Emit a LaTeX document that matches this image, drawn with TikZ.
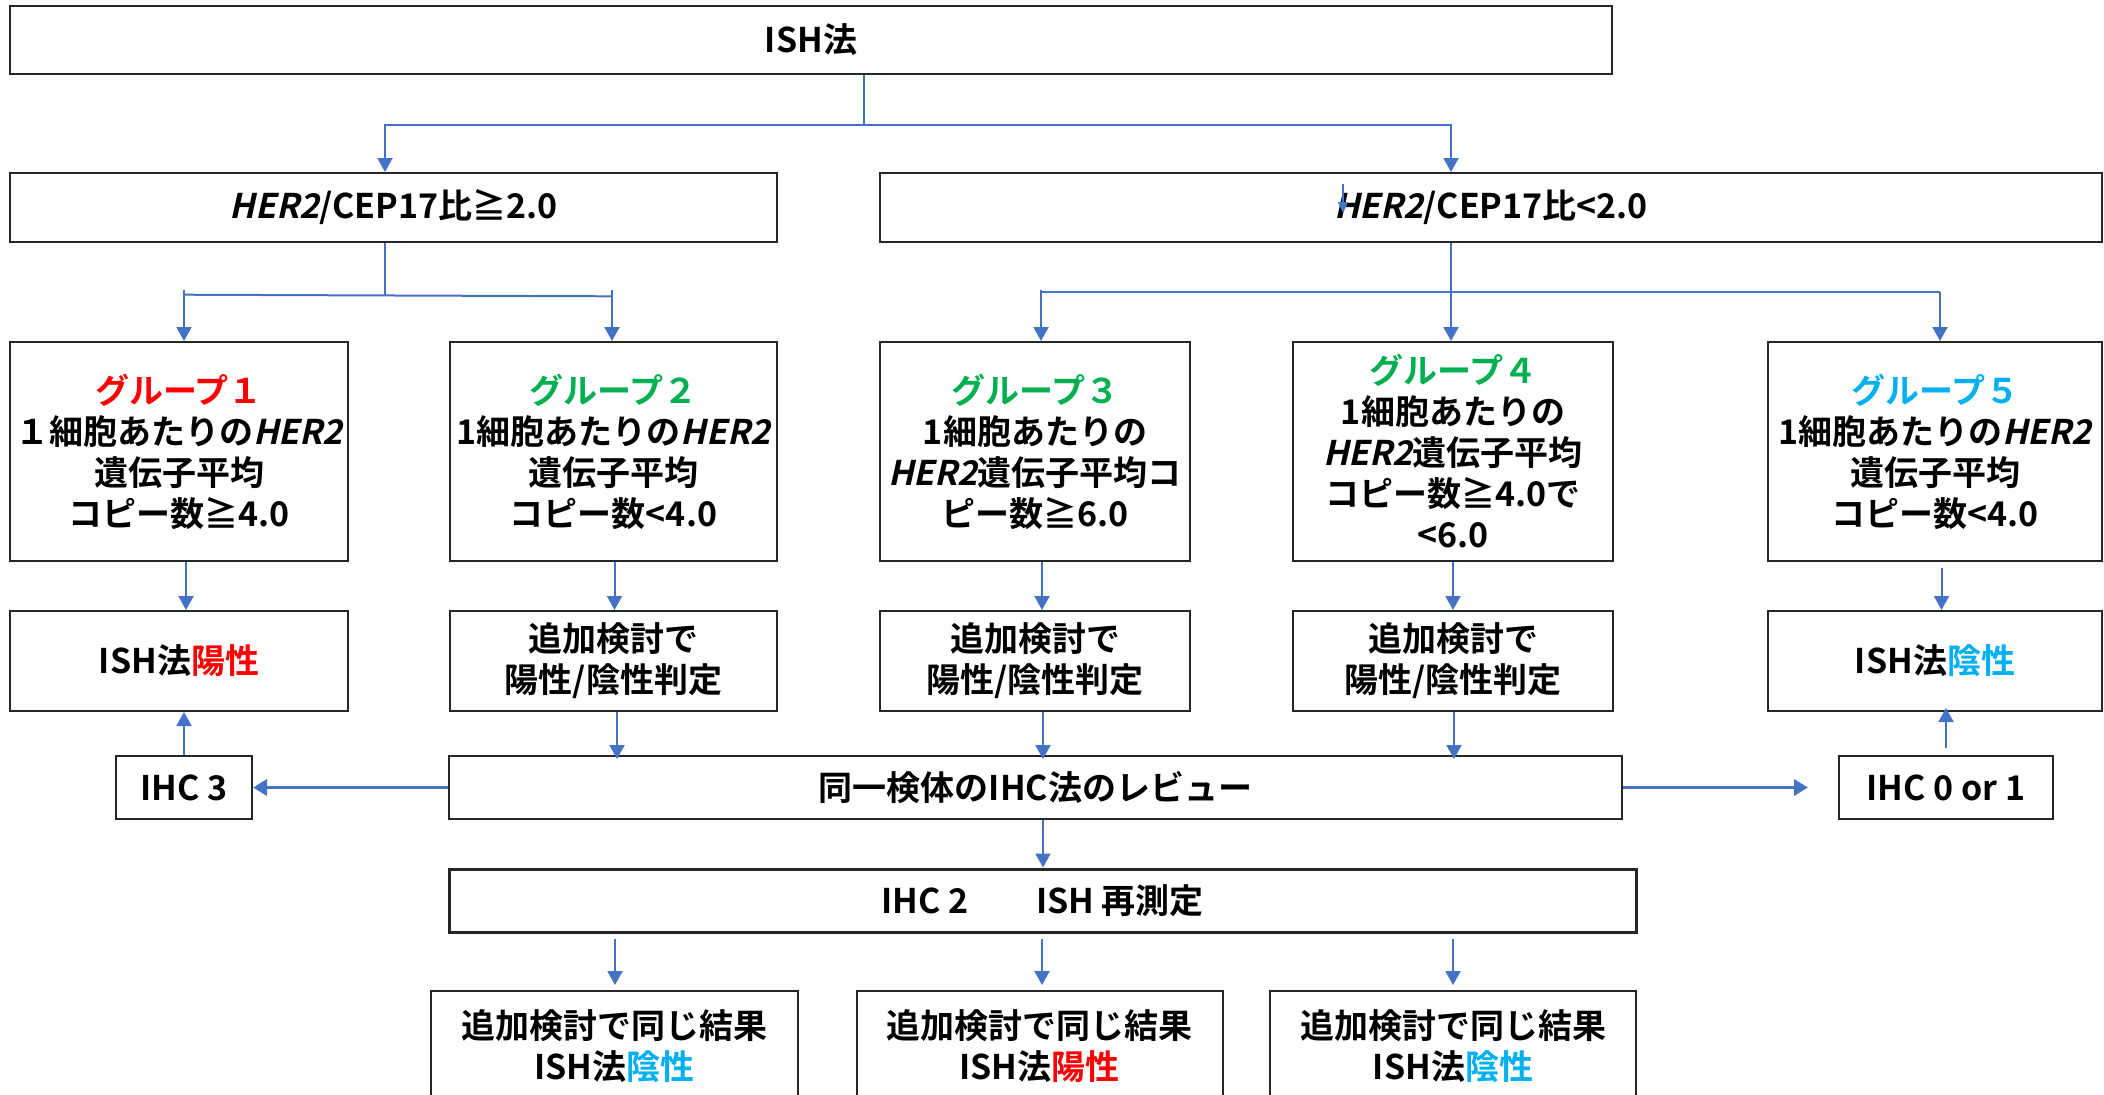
\documentclass[tikz,border=0pt]{standalone}
\usepackage{fontspec}
\setmainfont{Noto Sans CJK JP}[BoldFont={* Bold}]
\newfontfamily\herfam{Noto Sans CJK JP}[BoldFont={* Bold}, FakeSlant=0.22, BoldFeatures={FakeSlant=0.22}]
\newcommand{\her}{{\herfam\bfseries HER2}}
\usetikzlibrary{arrows.meta}
\definecolor{cblue}{HTML}{4472C4}
\definecolor{cred}{HTML}{FF0000}
\definecolor{cgreen}{HTML}{00B050}
\definecolor{ccyan}{HTML}{00B0F0}
\begin{document}
\begin{tikzpicture}[x=0.5pt,y=-0.5pt,
  box/.style={draw=black!85, line width=1pt, fill=white, align=center, inner sep=0pt,
    font=\fontsize{17pt}{20.5pt}\selectfont\bfseries},
  conn/.style={draw=cblue, line width=1pt},
  arr/.style={conn, -{Triangle[length=7pt,width=7.5pt]}},
  thickarr/.style={draw=cblue, line width=1.8pt, -{Triangle[length=7pt,width=8pt]}},
  tinyarr/.style={draw=cblue, line width=0.8pt, -{Triangle[length=5.5pt,width=5pt]}}]
\useasboundingbox (0,0) rectangle (2104,1094);

% row 0
\node[box, minimum width=801pt, minimum height=34pt] (isht) at (811,40) {ISH法};
% row 1
\node[box, minimum width=383.5pt, minimum height=34.5pt] (r1) at (393.5,207.5) {\her/CEP17比≧2.0};
\node[box, minimum width=611pt, minimum height=34.5pt] (r2) at (1491,207.5) {\her/CEP17比<2.0};
% row 2 groups
\node[box, minimum width=169pt, minimum height=109.5pt] (g1) at (179,451.5)
  {{\color{cred}グループ１}\\１細胞あたりの\her\\遺伝子平均\\コピー数≧4.0};
\node[box, minimum width=163.5pt, minimum height=109.5pt] (g2) at (613.5,451.5)
  {{\color{cgreen}グループ２}\\1細胞あたりの\her\\遺伝子平均\\コピー数<4.0};
\node[box, minimum width=155pt, minimum height=109.5pt] (g3) at (1035,451.5)
  {{\color{cgreen}グループ３}\\1細胞あたりの\\\her 遺伝子平均コ\\ピー数≧6.0};
\node[box, minimum width=160pt, minimum height=109.5pt] (g4) at (1453,451.5)
  {{\color{cgreen}グループ４}\\1細胞あたりの\\\her 遺伝子平均\\コピー数≧4.0で\\<6.0};
\node[box, minimum width=167pt, minimum height=109.5pt] (g5) at (1935,451.5)
  {{\color{ccyan}グループ５}\\1細胞あたりの\her\\遺伝子平均\\コピー数<4.0};
% row 3 results
\node[box, minimum width=169pt, minimum height=50pt] (res1) at (179,661) {ISH法{\color{cred}陽性}};
\node[box, minimum width=163.5pt, minimum height=50pt] (res2) at (613.5,661) {追加検討で\\陽性/陰性判定};
\node[box, minimum width=155pt, minimum height=50pt] (res3) at (1035,661) {追加検討で\\陽性/陰性判定};
\node[box, minimum width=160pt, minimum height=50pt] (res4) at (1453,661) {追加検討で\\陽性/陰性判定};
\node[box, minimum width=167pt, minimum height=50pt] (res5) at (1935,661) {ISH法{\color{ccyan}陰性}};
% row 4
\node[box, minimum width=68pt, minimum height=31.5pt] (ihc3) at (184,787.5) {IHC 3};
\node[box, minimum width=586.5pt, minimum height=31.5pt] (review) at (1035.5,787.5) {同一検体のIHC法のレビュー};
\node[box, minimum width=107pt, minimum height=31.5pt] (ihc01) at (1946,787.5) {IHC 0 or 1};
% row 5
\node[box, line width=1.5pt, minimum width=593.5pt, minimum height=31.5pt] (ihc2) at (1042.5,900.5) {IHC 2　　ISH 再測定};
% row 6
\node[box, minimum width=183.5pt, minimum height=55pt] (b1) at (614.5,1046) {追加検討で同じ結果\\ISH法{\color{ccyan}陰性}};
\node[box, minimum width=183pt, minimum height=55pt] (b2) at (1039.5,1046) {追加検討で同じ結果\\ISH法{\color{cred}陽性}};
\node[box, minimum width=183pt, minimum height=55pt] (b3) at (1453,1046) {追加検討で同じ結果\\ISH法{\color{ccyan}陰性}};

% top split
\coordinate (j0) at (864,125);
\coordinate (cL) at (385,125);
\coordinate (cR) at (1451,125);
\draw[conn] (isht.south -| j0) -- (j0);
\draw[arr] (j0) -| (r1.north -| cL);
\draw[arr] (j0) -| (r2.north -| cR);
\coordinate (s1) at (1343,184);
\coordinate (s2) at (1343,213);
\draw[tinyarr] (s1) -- (s2);

% left branch
\coordinate (kL) at (385,295.5);
\coordinate (kL1) at (184,294.7);
\coordinate (kL2) at (612,296.3);
\coordinate (kL1t) at (184,290);
\coordinate (kL2t) at (612,290);
\draw[conn] (r1.south -| kL) -- (kL);
\draw[conn] (kL1) -- (kL2);
\draw[arr] (kL1t) -- (g1.north -| kL1t);
\draw[arr] (kL2t) -- (g2.north -| kL2t);

% right branch
\coordinate (kR1) at (1041,291.7);
\coordinate (kR3) at (1940,291.7);
\coordinate (kR1t) at (1041,290);
\draw[conn] (kR1) -- (kR3);
\draw[arr] (r2.south -| cR) -- (g4.north -| cR);
\draw[arr] (kR1t) -- (g3.north -| kR1t);
\draw[arr] (kR3) -- (g5.north -| kR3);

% groups to results
\coordinate (x1) at (186,0);
\coordinate (x2) at (614.5,0);
\coordinate (x3) at (1042,0);
\coordinate (x4) at (1453,0);
\coordinate (x5) at (1941.5,0);
\draw[arr] (g1.south -| x1) -- (res1.north -| x1);
\draw[arr] (g2.south -| x2) -- (res2.north -| x2);
\draw[arr] (g3.south -| x3) -- (res3.north -| x3);
\draw[arr] (g4.south -| x4) -- (res4.north -| x4);
\draw[arr] ([yshift=-3pt]g5.south -| x5) -- (res5.north -| x5);

% results to review
\coordinate (y1) at (184,0);
\coordinate (y2) at (617,0);
\coordinate (y3) at (1043,0);
\coordinate (y4) at (1454,0);
\coordinate (y5) at (1946,0);
\draw[arr] (ihc3.north -| y1) -- (res1.south -| y1);
\draw[arr] (res2.south -| y2) -- ([yshift=-2pt]review.north -| y2);
\draw[arr] (res3.south -| y3) -- ([yshift=-2pt]review.north -| y3);
\draw[arr] (res4.south -| y4) -- ([yshift=-2pt]review.north -| y4);
\draw[thickarr] (review.west) -- (ihc3.east);
\draw[thickarr] (review.east) -- ([xshift=-15pt]ihc01.west);
\draw[arr] ([yshift=3.5pt]ihc01.north -| y5) -- ([yshift=2pt]res5.south -| y5);

% review to IHC2 and bottom
\draw[arr] (review.south -| y3) -- (ihc2.north -| y3);
\coordinate (z1) at (615,0);
\coordinate (z2) at (1042,0);
\coordinate (z3) at (1453,0);
\draw[arr] ([yshift=-2.5pt]ihc2.south -| z1) -- ([yshift=2.5pt]b1.north -| z1);
\draw[arr] ([yshift=-2.5pt]ihc2.south -| z2) -- ([yshift=2.5pt]b2.north -| z2);
\draw[arr] ([yshift=-2.5pt]ihc2.south -| z3) -- ([yshift=2.5pt]b3.north -| z3);
\end{tikzpicture}
\end{document}
